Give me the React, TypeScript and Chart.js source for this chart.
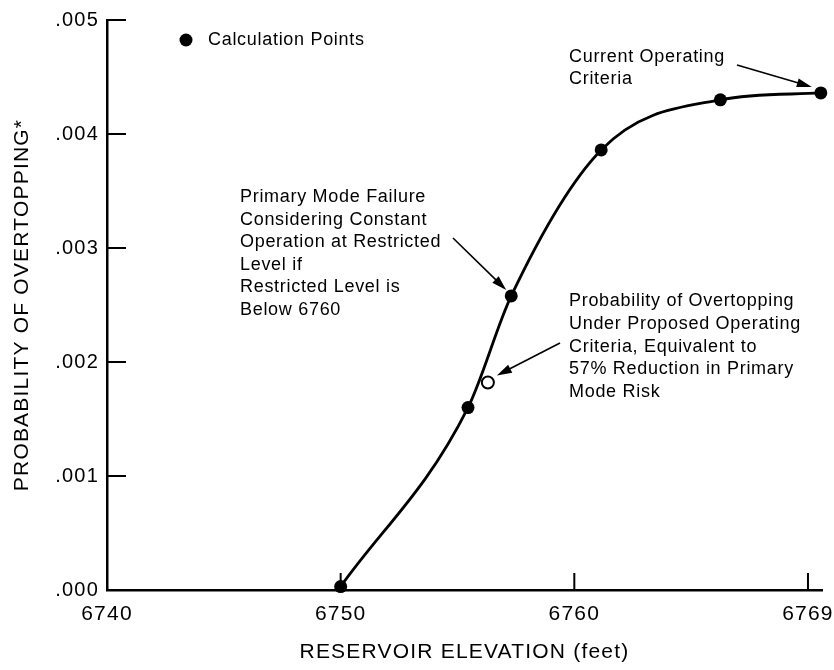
import { useEffect, useRef } from "react";
import { Chart, registerables } from "chart.js";

Chart.register(...registerables);

// Reservoir elevation (feet) and probability of overtopping at the calculation points
const elevations = [6750, 6755.45, 6757.3, 6761.15, 6766.25, 6770.55];
const probabilities = [0.00003, 0.0016, 0.00258, 0.00386, 0.0043, 0.00436];

// Proposed operating criteria (open marker)
const proposedElevation = [6756.3];
const proposedProbability = [0.00182];

// Axis ticks
const xTickValues = [6740, 6750, 6760, 6770];
const xTickLabels = ["6740", "6750", "6760", "6769"];
const yTickValues = [0, 0.001, 0.002, 0.003, 0.004, 0.005];
const yTickLabels = [".000", ".001", ".002", ".003", ".004", ".005"];

// Texts
const xTitle = "RESERVOIR ELEVATION (feet)";
const yTitle = "PROBABILITY OF OVERTOPPING*";
const legendLabel = "Calculation Points";
const noteCurrent = ["Current Operating", "Criteria"];
const notePrimary = [
  "Primary Mode Failure",
  "Considering Constant",
  "Operation at Restricted",
  "Level if",
  "Restricted Level is",
  "Below 6760",
];
const noteProposed = [
  "Probability of Overtopping",
  "Under Proposed Operating",
  "Criteria, Equivalent to",
  "57% Reduction in Primary",
  "Mode Risk",
];

const FONT = "'Liberation Sans', Arial, Helvetica, sans-serif";

function drawArrow(
  ctx: CanvasRenderingContext2D,
  x0: number,
  y0: number,
  x1: number,
  y1: number
) {
  const ang = Math.atan2(y1 - y0, x1 - x0);
  const len = 15;
  const hw = 4.5;
  const bx = x1 - len * Math.cos(ang);
  const by = y1 - len * Math.sin(ang);
  ctx.lineWidth = 1.6;
  ctx.beginPath();
  ctx.moveTo(x0, y0);
  ctx.lineTo(bx + 2 * Math.cos(ang), by + 2 * Math.sin(ang));
  ctx.stroke();
  ctx.beginPath();
  ctx.moveTo(x1, y1);
  ctx.lineTo(bx - hw * Math.sin(ang), by + hw * Math.cos(ang));
  ctx.lineTo(bx + hw * Math.sin(ang), by - hw * Math.cos(ang));
  ctx.closePath();
  ctx.fill();
}

function drawLines(
  ctx: CanvasRenderingContext2D,
  lines: string[],
  x: number,
  y: number,
  step: number
) {
  lines.forEach((line, i) => ctx.fillText(line, x, y + i * step));
}

const notesPlugin = {
  id: "overtoppingNotes",
  beforeDraw(chart: any) {
    chart.ctx.letterSpacing = "1.2px";
  },
  beforeDatasetsDraw(chart: any) {
    const { ctx, chartArea, scales } = chart;
    const { x, y } = scales;
    ctx.save();
    ctx.strokeStyle = "#000";
    ctx.lineWidth = 2;
    ctx.beginPath();
    for (const v of yTickValues) {
      const py = y.getPixelForValue(v);
      ctx.moveTo(chartArea.left, py);
      ctx.lineTo(chartArea.left + 19, py);
    }
    for (const v of xTickValues) {
      const px = x.getPixelForValue(v);
      ctx.moveTo(px, chartArea.bottom);
      ctx.lineTo(px, chartArea.bottom - 17);
    }
    ctx.stroke();
    ctx.restore();
  },
  afterDraw(chart: any) {
    const { ctx, scales } = chart;
    const { x, y } = scales;
    ctx.save();
    ctx.fillStyle = "#000";
    ctx.strokeStyle = "#000";
    ctx.font = `18px ${FONT}`;
    ctx.letterSpacing = "0.7px";
    ctx.textAlign = "left";
    ctx.textBaseline = "middle";

    // legend
    ctx.beginPath();
    ctx.arc(186, 40, 6.5, 0, Math.PI * 2);
    ctx.fill();
    ctx.fillText(legendLabel, 208, 40);

    // notes
    drawLines(ctx, noteCurrent, 569, 57, 22);
    drawLines(ctx, notePrimary, 240, 197, 22.6);
    drawLines(ctx, noteProposed, 569, 301, 22.8);

    // arrows to the marks they describe
    const last = elevations.length - 1;
    const pCur = {
      x: x.getPixelForValue(elevations[last]),
      y: y.getPixelForValue(probabilities[last]),
    };
    drawArrow(ctx, 737, 65, pCur.x - 9, pCur.y - 6);

    const pPrim = {
      x: x.getPixelForValue(elevations[2]),
      y: y.getPixelForValue(probabilities[2]),
    };
    drawArrow(ctx, 453, 238, pPrim.x - 5, pPrim.y - 6);

    const pProp = {
      x: x.getPixelForValue(proposedElevation[0]),
      y: y.getPixelForValue(proposedProbability[0]),
    };
    drawArrow(ctx, 560, 343, pProp.x + 9, pProp.y - 7);

    ctx.restore();
    ctx.letterSpacing = "0px";
  },
};

export default function App() {
  const canvasRef = useRef<HTMLCanvasElement | null>(null);

  useEffect(() => {
    if (!canvasRef.current) return;
    const curve = elevations.map((e, i) => ({ x: e, y: probabilities[i] }));
    const proposed = proposedElevation.map((e, i) => ({
      x: e,
      y: proposedProbability[i],
    }));

    const chart = new Chart(canvasRef.current, {
      type: "line",
      data: {
        datasets: [
          {
            label: legendLabel,
            data: curve,
            borderColor: "#000",
            backgroundColor: "#000",
            borderWidth: 2.8,
            cubicInterpolationMode: "monotone",
            pointRadius: 6.5,
            pointBackgroundColor: "#000",
            pointBorderWidth: 0,
            clip: false as any,
          },
          {
            label: "Proposed",
            data: proposed,
            showLine: false,
            pointRadius: 6,
            pointBackgroundColor: "#fff",
            pointBorderColor: "#000",
            pointBorderWidth: 2,
            clip: false as any,
          },
        ],
      },
      options: {
        animation: false,
        responsive: true,
        maintainAspectRatio: false,
        layout: { padding: { top: 20, right: 12, left: 0, bottom: 0 } },
        plugins: {
          legend: { display: false },
          tooltip: { enabled: false },
        },
        scales: {
          x: {
            type: "linear",
            min: 6740,
            max: 6770.6,
            grid: { display: false, drawTicks: false },
            border: { display: true, color: "#000", width: 2.5 },
            afterBuildTicks: (scale: any) => {
              scale.ticks = xTickValues.map((v) => ({ value: v }));
            },
            afterFit: (scale: any) => {
              scale.height = 80;
              scale.paddingLeft = 0;
              scale.paddingRight = 0;
            },
            ticks: {
              padding: 12,
              color: "#000",
              font: { family: FONT, size: 21 },
              maxRotation: 0,
              autoSkip: false,
              callback: (value: any) => {
                const i = xTickValues.indexOf(Number(value));
                return i >= 0 ? xTickLabels[i] : "";
              },
            },
            title: {
              display: true,
              text: xTitle,
              color: "#000",
              font: { family: FONT, size: 21 },
              padding: { top: 0, bottom: 5 },
            },
          },
          y: {
            type: "linear",
            min: 0,
            max: 0.005,
            grid: { display: false, drawTicks: false },
            border: { display: true, color: "#000", width: 2.5 },
            afterBuildTicks: (scale: any) => {
              scale.ticks = yTickValues.map((v) => ({ value: v }));
            },
            afterFit: (scale: any) => {
              scale.width = 107;
              scale.paddingTop = 0;
              scale.paddingBottom = 0;
            },
            ticks: {
              padding: 8,
              color: "#000",
              font: { family: FONT, size: 20 },
              autoSkip: false,
              callback: (value: any) => {
                const i = yTickValues.findIndex(
                  (v) => Math.abs(v - Number(value)) < 1e-9
                );
                return i >= 0 ? yTickLabels[i] : "";
              },
            },
            title: {
              display: true,
              text: yTitle,
              color: "#000",
              font: { family: FONT, size: 21 },
              padding: { top: 10, bottom: 0 },
            },
          },
        },
      },
      plugins: [notesPlugin],
    });

    return () => chart.destroy();
  }, []);

  return (
    <div
      style={{
        position: "absolute",
        left: 0,
        top: 0,
        width: 834,
        height: 670,
        background: "#fff",
      }}
    >
      <canvas ref={canvasRef} />
    </div>
  );
}
